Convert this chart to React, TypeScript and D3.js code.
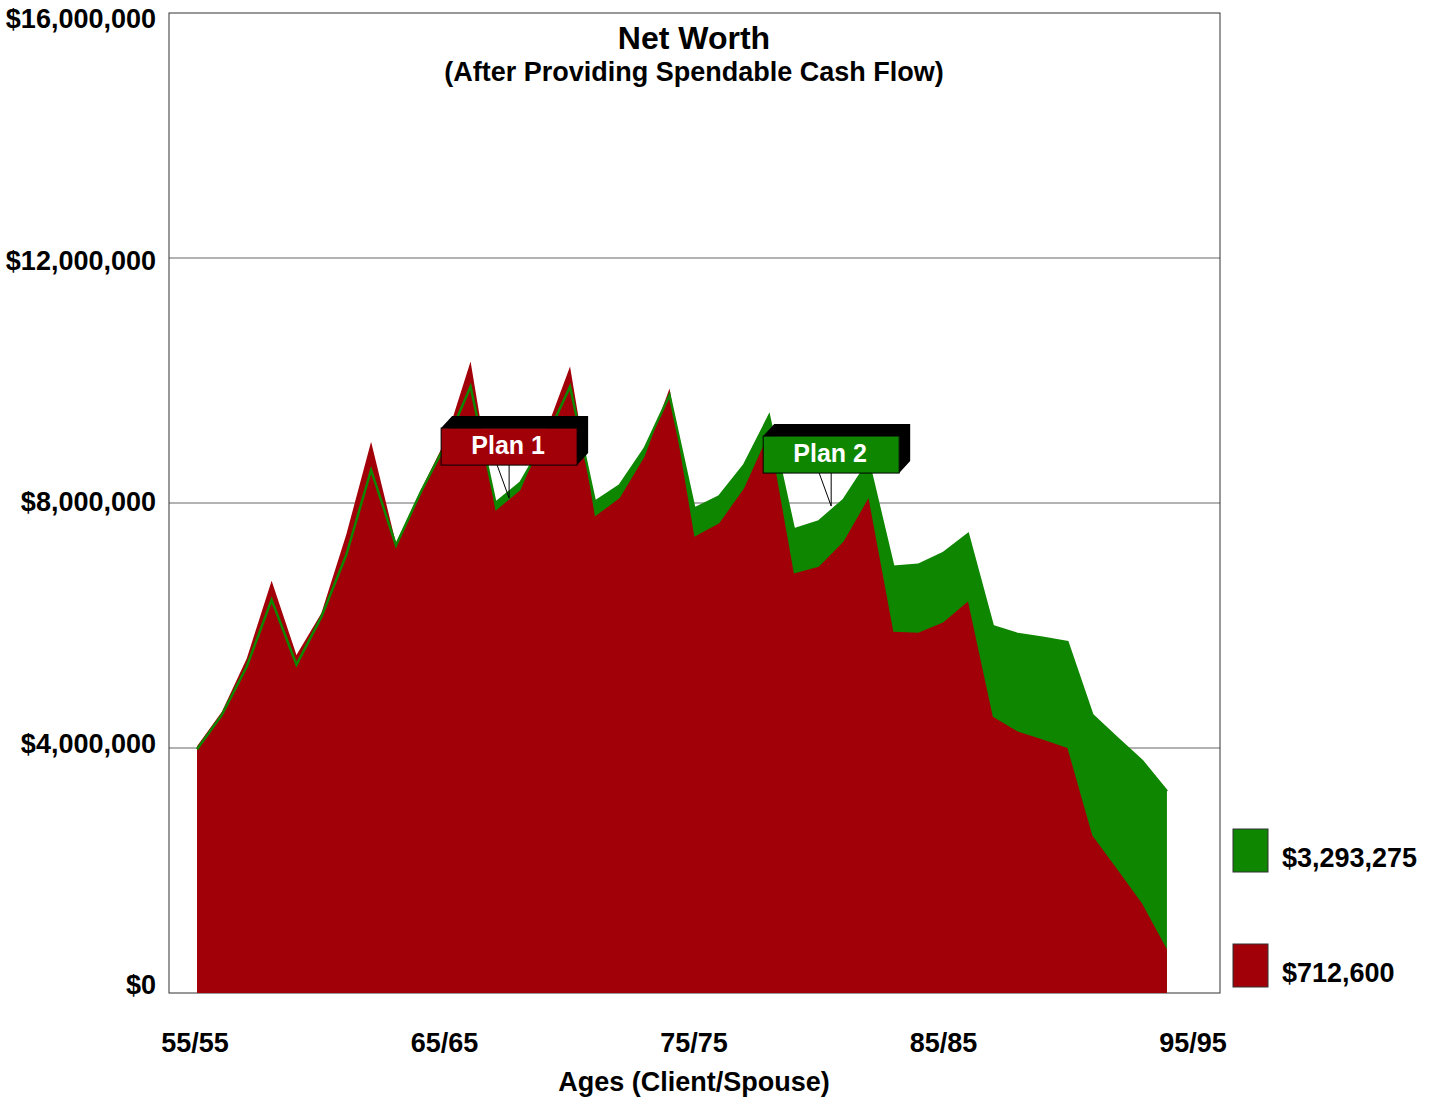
import React from 'react';
import * as d3 from 'd3';

// Net worth per year of age (client/spouse), two plans
const ages = [
  55, 56, 57, 58, 59, 60, 61, 62, 63, 64,
  65, 66, 67, 68, 69, 70, 71, 72, 73, 74,
  75, 76, 77, 78, 79, 80, 81, 82, 83, 84,
  85, 86, 87, 88, 89, 90, 91, 92, 93, 94,
];

const plan1Values = [
  4030000, 4590000, 5460000, 6730000, 5520000, 6200000, 7480000, 9000000, 7340000, 8210000,
  9030000, 10310000, 7870000, 8210000, 9140000, 10230000, 7780000, 8080000, 8760000, 9870000,
  7450000, 7670000, 8240000, 9140000, 6850000, 6960000, 7370000, 8080000, 5900000, 5880000,
  6050000, 6390000, 4510000, 4270000, 4140000, 4000000, 2570000, 2020000, 1460000, 712600,
];

const plan2Values = [
  3980000, 4540000, 5330000, 6420000, 5360000, 6140000, 7150000, 8540000, 7310000, 8180000,
  8960000, 9900000, 8000000, 8330000, 9030000, 9900000, 8020000, 8290000, 8890000, 9760000,
  7910000, 8110000, 8620000, 9420000, 7570000, 7700000, 8050000, 8670000, 6960000, 6990000,
  7180000, 7490000, 5990000, 5860000, 5800000, 5730000, 4540000, 4160000, 3790000, 3293275,
];

const yTickValues = [0, 4000000, 8000000, 12000000, 16000000];
const xTickAges = [55, 65, 75, 85, 95];
const xTickLabels = ['55/55', '65/65', '75/75', '85/85', '95/95'];

const seriesNames = ['Plan 1', 'Plan 2'];
const callouts = [
  { name: 'Plan 1', age: 67.55, value: 8080000 },
  { name: 'Plan 2', age: 80.5, value: 7950000 },
];

const RED = '#A20008';
const GREEN = '#0E8600';
const FONT = '"Liberation Sans", Arial, Helvetica, sans-serif';

const W = 1434;
const H = 1100;
const plot = { left: 169, top: 13, right: 1220, bottom: 993 };

const fmt = (v: number) => '$' + d3.format(',')(Math.round(v));

function Callout({ x, y, label, fill }: { x: number; y: number; label: string; fill: string }) {
  const w = 136;
  const h = 37;
  const dx = 11;
  const dy = -12;
  const left = x - w / 2;
  const bottom = y - 33;
  const top = bottom - h;
  const back = [
    [left, top],
    [left + dx, top + dy],
    [left + w + dx, top + dy],
    [left + w + dx, bottom + dy],
    [left + w, bottom],
    [left + w, top],
  ]
    .map((p) => p.join(','))
    .join(' ');
  return (
    <g>
      <line x1={x - 12} y1={bottom} x2={x} y2={y} stroke="#000" strokeWidth={1} />
      <line x1={x} y1={bottom} x2={x} y2={y} stroke="#000" strokeWidth={1} />
      <polygon points={back} fill="#000" />
      <rect x={left} y={top} width={w} height={h} fill={fill} stroke="#000" strokeWidth={1} />
      <text
        x={x - 1}
        y={top + h / 2 + 7}
        textAnchor="middle"
        fill="#fff"
        fontFamily={FONT}
        fontWeight="bold"
        fontSize={25}
      >
        {label}
      </text>
    </g>
  );
}

export default function App() {
  const x = d3.scaleLinear().domain([55, 95]).range([197, 197 + 40 * 24.87]);
  const y = d3.scaleLinear().domain([0, 16000000]).range([plot.bottom, plot.top]);
  // tick labels sit on slightly different spacing than the plotted marks
  const yLabel = d3.scaleLinear().domain([0, 16000000]).range([994, 28]);
  const xLabel = d3.scaleLinear().domain([55, 95]).range([195, 1193]);

  const rows1 = ages.map((a, i) => ({ a, v: plan1Values[i] }));
  const rows2 = ages.map((a, i) => ({ a, v: plan2Values[i] }));

  const area = d3
    .area<{ a: number; v: number }>()
    .x((d) => x(d.a))
    .y0(y(0))
    .y1((d) => y(d.v));
  const line = d3
    .line<{ a: number; v: number }>()
    .x((d) => x(d.a))
    .y((d) => y(d.v));

  const colorOf: Record<string, string> = { 'Plan 1': RED, 'Plan 2': GREEN };

  return (
    <svg
      width={W}
      height={H}
      viewBox={`0 0 ${W} ${H}`}
      style={{ position: 'absolute', left: 0, top: 0, background: '#fff' }}
    >
      {/* grid */}
      {yTickValues
        .filter((v) => v > 0 && v < 16000000)
        .map((v) => (
          <line
            key={v}
            x1={plot.left}
            x2={plot.right}
            y1={y(v)}
            y2={y(v)}
            stroke="#666"
            strokeWidth={1}
          />
        ))}
      <rect
        x={plot.left}
        y={plot.top}
        width={plot.right - plot.left}
        height={plot.bottom - plot.top}
        fill="none"
        stroke="#333"
        strokeWidth={1}
      />

      {/* areas */}
      <path d={area(rows2) || ''} fill={GREEN} />
      <path d={area(rows1) || ''} fill={RED} />
      <path d={line(rows2) || ''} fill="none" stroke={GREEN} strokeWidth={2.5} />

      {/* title */}
      <text x={694} y={49} textAnchor="middle" fontFamily={FONT} fontWeight="bold" fontSize={32}>
        Net Worth
      </text>
      <text x={694} y={81} textAnchor="middle" fontFamily={FONT} fontWeight="bold" fontSize={27}>
        (After Providing Spendable Cash Flow)
      </text>

      {/* y axis labels */}
      {yTickValues.map((v) => (
        <text
          key={v}
          x={156}
          y={yLabel(v)}
          textAnchor="end"
          fontFamily={FONT}
          fontWeight="bold"
          fontSize={27}
        >
          {fmt(v)}
        </text>
      ))}

      {/* x axis labels */}
      {xTickAges.map((a, i) => (
        <text
          key={a}
          x={xLabel(a)}
          y={1052}
          textAnchor="middle"
          fontFamily={FONT}
          fontWeight="bold"
          fontSize={27}
        >
          {xTickLabels[i]}
        </text>
      ))}
      <text x={694} y={1091} textAnchor="middle" fontFamily={FONT} fontWeight="bold" fontSize={27}>
        Ages (Client/Spouse)
      </text>

      {/* callouts */}
      {callouts.map((c) => (
        <Callout key={c.name} x={x(c.age)} y={y(c.value)} label={c.name} fill={colorOf[c.name]} />
      ))}

      {/* legend: final values */}
      {[
        { name: seriesNames[1], v: plan2Values[plan2Values.length - 1], top: 829 },
        { name: seriesNames[0], v: plan1Values[plan1Values.length - 1], top: 944 },
      ].map((d) => (
        <g key={d.name}>
          <rect
            x={1233}
            y={d.top}
            width={35}
            height={43}
            fill={colorOf[d.name]}
            stroke="#333"
            strokeWidth={1}
          />
          <text
            x={1282}
            y={d.top + 38}
            fontFamily={FONT}
            fontWeight="bold"
            fontSize={27}
          >
            {fmt(d.v)}
          </text>
        </g>
      ))}
    </svg>
  );
}
